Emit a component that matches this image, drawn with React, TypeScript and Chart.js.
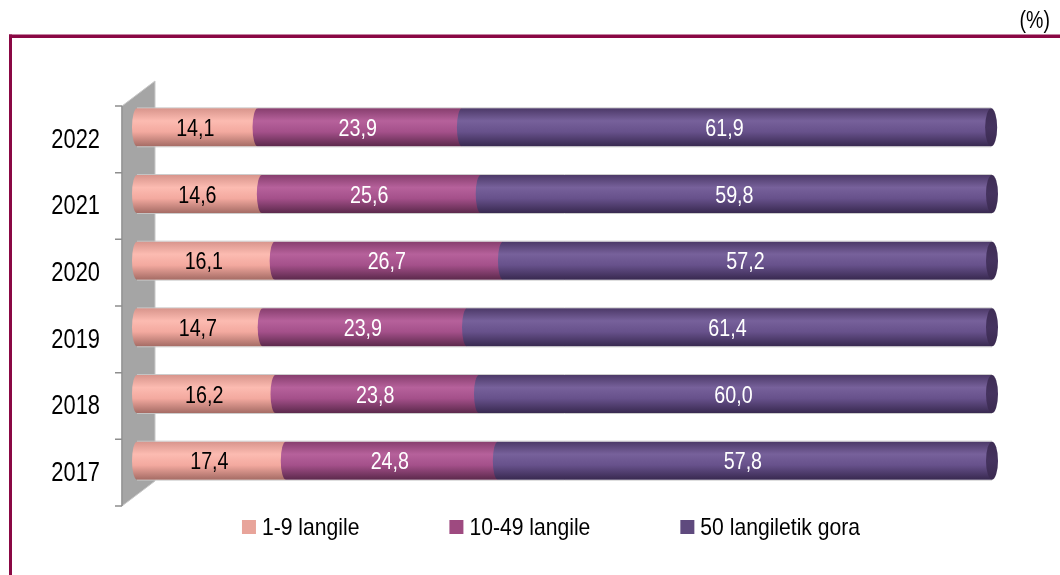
import React, { useEffect, useRef } from "react";
import { Chart, registerables } from "chart.js";

Chart.register(...registerables);

// ---- data ----
const years = ["2022", "2021", "2020", "2019", "2018", "2017"];
const small = [14.1, 14.6, 16.1, 14.7, 16.2, 17.4];
const medium = [23.9, 25.6, 26.7, 23.9, 23.8, 24.8];
const large = [61.9, 59.8, 57.2, 61.4, 60.0, 57.8];
const seriesLabels = ["1-9 langile", "10-49 langile", "50 langiletik gora"];
const unitLabel = "(%)";

// ---- styles ----
const FONT = '"Liberation Sans", Arial, sans-serif';
const palettes = [
  { flat: "#F2A89E", legend: "#E8A49A", stops: ["#D8958C", "#FCBBB1", "#F3A99F", "#A56C65"], text: "#000000" },
  { flat: "#A8508A", legend: "#9E4A80", stops: ["#873E6E", "#B6619B", "#A4508A", "#5C294C"], text: "#FFFFFF" },
  { flat: "#6A5290", legend: "#5F4A7E", stops: ["#4C3968", "#77619B", "#67518B", "#382950"], text: "#FFFFFF", cap: "#45335F" },
];
const MAROON = "#8A0844";

const fmt = (v: number) => v.toFixed(1).replace(".", ",");

// draws text horizontally condensed (the reference uses a narrow face)
function narrowText(ctx: CanvasRenderingContext2D, text: string, x: number, y: number, align: CanvasTextAlign, sx: number) {
  ctx.save();
  ctx.translate(x, y);
  ctx.scale(sx, 1);
  ctx.textAlign = align;
  ctx.textBaseline = "middle";
  ctx.fillText(text, 0, 0);
  ctx.restore();
}

const decorPlugin = {
  id: "decor",
  beforeDraw(chart: any) {
    const ctx = chart.ctx;
    ctx.save();
    ctx.fillStyle = "#FFFFFF";
    ctx.fillRect(0, 0, chart.width, chart.height);
    // maroon frame
    ctx.fillStyle = MAROON;
    ctx.fillRect(9, 34.5, chart.width - 9, 3.5);
    ctx.fillRect(9, 34.5, 3, chart.height - 34.5);
    // unit label
    ctx.fillStyle = "#000";
    ctx.font = `23px ${FONT}`;
    narrowText(ctx, unitLabel, 1050, 22, "right", 0.85);
    ctx.restore();
  },
  beforeDatasetsDraw(chart: any) {
    const ctx = chart.ctx;
    const area = chart.chartArea;
    const yScale = chart.scales.y;
    const L = area.left - 15;
    const R = area.left + 18;
    const dyL = 12;
    const dyR = -13;
    ctx.save();
    // wall
    ctx.beginPath();
    ctx.moveTo(L, area.top + dyL);
    ctx.lineTo(R, area.top + dyR);
    ctx.lineTo(R, area.bottom + dyR);
    ctx.lineTo(L, area.bottom + dyL);
    ctx.closePath();
    ctx.fillStyle = "#A5A5A5";
    ctx.fill();
    ctx.strokeStyle = "#C8C8C8";
    ctx.lineWidth = 1;
    ctx.stroke();
    // axis line + ticks
    ctx.strokeStyle = "#8E8E8E";
    ctx.lineWidth = 1.5;
    ctx.beginPath();
    ctx.moveTo(L, area.top + dyL);
    ctx.lineTo(L, area.bottom + dyL);
    for (let k = 0; k <= years.length; k++) {
      const yy = yScale.getPixelForValue(k - 0.5) + dyL;
      ctx.moveTo(L - 7, yy);
      ctx.lineTo(L, yy);
    }
    ctx.stroke();
    // category labels
    ctx.fillStyle = "#000";
    ctx.font = `27px ${FONT}`;
    (chart.data.labels as string[]).forEach((lab: string, i: number) => {
      narrowText(ctx, lab, 100, yScale.getPixelForValue(i) + 13, "right", 0.81);
    });
    ctx.restore();
  },
  afterDatasetsDraw(chart: any) {
    const ctx = chart.ctx;
    const metas = chart.data.datasets.map((_: any, i: number) => chart.getDatasetMeta(i));
    const rx = 5;
    ctx.save();
    for (let j = 0; j < years.length; j++) {
      let firstBase = 0;
      let lastX = 0;
      let yc = 0;
      let h = 0;
      metas.forEach((meta: any, i: number) => {
        const el = meta.data[j];
        const p = el.getProps(["x", "y", "base", "height"], true);
        const top = p.y - p.height / 2;
        const pal = palettes[i];
        const g = ctx.createLinearGradient(0, top, 0, top + p.height);
        g.addColorStop(0, pal.stops[0]);
        g.addColorStop(0.33, pal.stops[1]);
        g.addColorStop(0.62, pal.stops[2]);
        g.addColorStop(1, pal.stops[3]);
        ctx.beginPath();
        ctx.moveTo(p.base, top);
        ctx.lineTo(p.x, top);
        ctx.lineTo(p.x, top + p.height);
        ctx.lineTo(p.base, top + p.height);
        ctx.ellipse(p.base, p.y, rx, p.height / 2, 0, Math.PI / 2, (3 * Math.PI) / 2, false);
        ctx.closePath();
        ctx.fillStyle = g;
        ctx.fill();
        if (i === 0) firstBase = p.base;
        lastX = p.x;
        yc = p.y;
        h = p.height;
      });
      // end face
      const last = palettes[palettes.length - 1];
      const gf = ctx.createLinearGradient(0, yc - h / 2, 0, yc + h / 2);
      gf.addColorStop(0, "#3E2D55");
      gf.addColorStop(0.5, last.cap as string);
      gf.addColorStop(1, "#3A2A50");
      ctx.beginPath();
      ctx.ellipse(lastX, yc, 6, h / 2, 0, 0, Math.PI * 2);
      ctx.fillStyle = gf;
      ctx.fill();
      // thin light edges
      ctx.strokeStyle = "rgba(200,200,200,0.9)";
      ctx.lineWidth = 1;
      ctx.beginPath();
      ctx.moveTo(firstBase, yc - h / 2 - 0.5);
      ctx.lineTo(lastX, yc - h / 2 - 0.5);
      ctx.moveTo(firstBase, yc + h / 2 + 0.5);
      ctx.lineTo(lastX, yc + h / 2 + 0.5);
      ctx.stroke();
    }
    // value labels
    ctx.font = `24px ${FONT}`;
    metas.forEach((meta: any, i: number) => {
      const values = chart.data.datasets[i].data as number[];
      meta.data.forEach((el: any, j: number) => {
        const p = el.getProps(["x", "y", "base"], true);
        ctx.fillStyle = palettes[i].text;
        narrowText(ctx, fmt(values[j]), (p.x + p.base) / 2 - 2, p.y + 2, "center", 0.82);
      });
    });
    ctx.restore();
  },
  afterDraw(chart: any) {
    // legend
    const ctx = chart.ctx;
    ctx.save();
    ctx.font = `24px ${FONT}`;
    const sx = 0.88;
    const box = 14;
    const gap = 6;
    const spacing = 90;
    const labels = chart.data.datasets.map((d: any) => d.label as string);
    const widths = labels.map((t: string) => box + gap + ctx.measureText(t).width * sx);
    const total = widths.reduce((a: number, b: number) => a + b, 0) + spacing * (labels.length - 1);
    let x = 551 - total / 2;
    const yc = 527;
    labels.forEach((t: string, i: number) => {
      ctx.fillStyle = palettes[i].legend;
      ctx.fillRect(x, yc - box / 2, box, box);
      ctx.fillStyle = "#000";
      narrowText(ctx, t, x + box + gap, yc + 1, "left", sx);
      x += widths[i] + spacing;
    });
    ctx.restore();
  },
};

export default function App() {
  const ref = useRef<HTMLCanvasElement | null>(null);
  useEffect(() => {
    if (!ref.current) return;
    const chart = new Chart(ref.current, {
      type: "bar",
      data: {
        labels: years,
        datasets: [small, medium, large].map((d, i) => ({
          label: seriesLabels[i],
          data: d,
          backgroundColor: palettes[i].flat,
          borderWidth: 0,
          categoryPercentage: 1,
          barPercentage: 0.57,
        })),
      },
      options: {
        indexAxis: "y",
        responsive: false,
        animation: false,
        layout: { padding: { top: 94, right: 68, bottom: 81, left: 0 } },
        plugins: { legend: { display: false }, tooltip: { enabled: false } },
        scales: {
          x: { stacked: true, min: 0, max: 100, display: false },
          y: {
            stacked: true,
            grid: { display: false, drawTicks: false },
            border: { display: false },
            ticks: { display: false },
            afterFit: (scale: any) => {
              scale.width = 137;
            },
          },
        },
      },
      plugins: [decorPlugin],
    });
    return () => chart.destroy();
  }, []);
  return (
    <div style={{ position: "fixed", left: 0, top: 0, width: 1060, height: 575, background: "#fff" }}>
      <canvas ref={ref} width={1060} height={575} style={{ width: 1060, height: 575, display: "block" }} />
    </div>
  );
}
